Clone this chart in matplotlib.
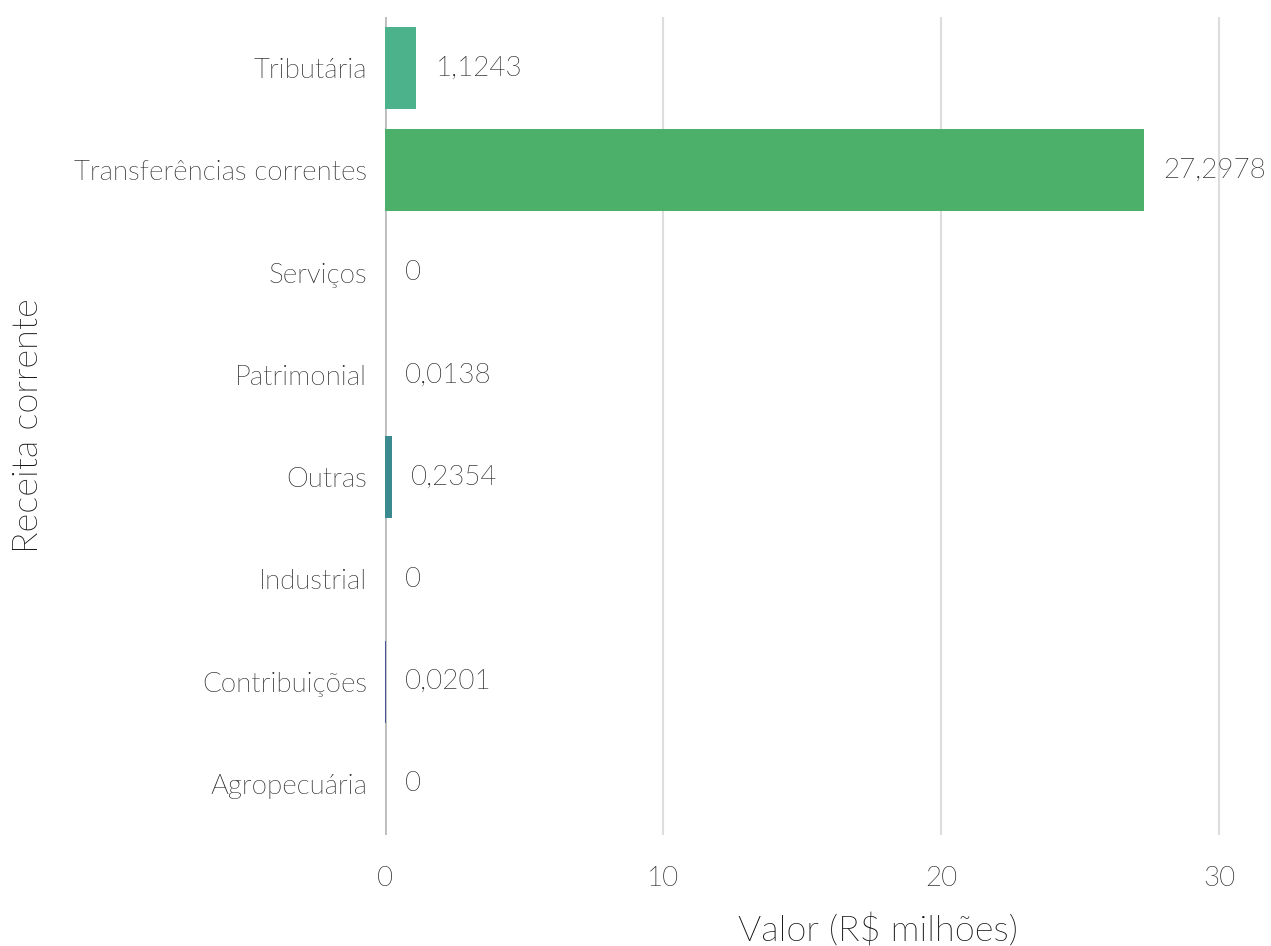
import matplotlib.pyplot as plt
from matplotlib import font_manager

categorias = ["Tributária", "Transferências correntes", "Serviços", "Patrimonial",
              "Outras", "Industrial", "Contribuições", "Agropecuária"]
valores = [1.1243, 27.2978, 0, 0.0138, 0.2354, 0, 0.0201, 0]
rotulos = ["1,1243", "27,2978", "0", "0,0138", "0,2354", "0", "0,0201", "0"]
cores = ["#4bb28b", "#4caf6a", "#9fc9a8", "#3f9a6c", "#3a8a8f", "#9aa7b5", "#46559a", "#b0b0b8"]

# procura o arquivo do Lato Light
arq = None
for f in font_manager.fontManager.ttflist:
    nome = f.fname.lower()
    if "lato" in nome and "light" in nome and "italic" not in nome:
        arq = f.fname
        break


def fonte(tam):
    if arq:
        return font_manager.FontProperties(fname=arq, size=tam)
    return font_manager.FontProperties(family="Lato", weight="light", size=tam)


fig = plt.figure(figsize=(12.71, 9.46), dpi=100)
ax = fig.add_axes([385 / 1271, 1 - 835 / 946, (1247 - 385) / 1271, (835 - 17) / 946])

y = range(len(categorias))
ax.barh(y, valores, height=0.8, color=cores, zorder=3)

for i, (v, r) in enumerate(zip(valores, rotulos)):
    ax.text(v + 0.7, i, r, va="center", ha="left", fontproperties=fonte(20), color="#222222")

ax.set_xlim(0, 31)
ax.set_ylim(7.5, -0.5)
ax.set_yticks(list(y))
ax.set_yticklabels(categorias, fontproperties=fonte(20), color="#222222")
ax.set_xticks([0, 10, 20, 30])
ax.set_xticklabels(["0", "10", "20", "30"], fontproperties=fonte(20), color="#222222")
ax.tick_params(length=0)
ax.tick_params(axis="y", pad=13)
ax.tick_params(axis="x", pad=22)

ax.grid(axis="x", color="#dddddd", linewidth=1.5, zorder=0)
ax.axvline(0, color="#bcbcbc", linewidth=2, zorder=2)
for s in ax.spines.values():
    s.set_visible(False)

fig.text(878 / 1271, 1 - 930 / 946, "Valor (R$ milhões)", ha="center", va="center",
         fontproperties=fonte(26), color="#111111")
fig.text(28 / 1271, 1 - 426 / 946, "Receita corrente", ha="center", va="center",
         rotation=90, fontproperties=fonte(26), color="#111111")

fig.savefig("out.png", dpi=100)
